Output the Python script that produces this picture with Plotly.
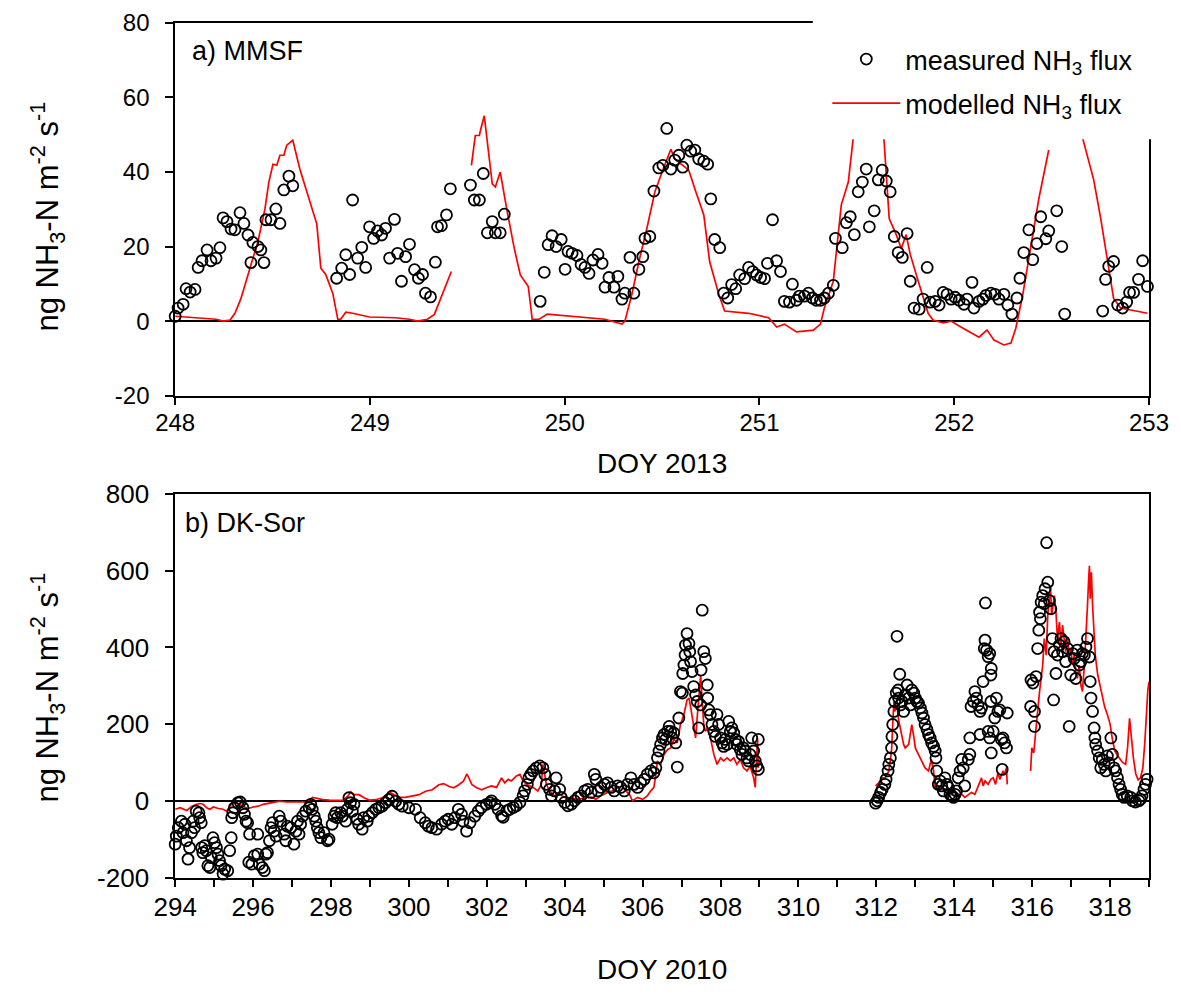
import plotly.graph_objects as go

# ---------------- a) MMSF, DOY 2013 ----------------
top_meas_doy = [
    248.000, 248.015, 248.041, 248.056, 248.077, 248.102, 248.118, 248.138, 248.164, 248.184,
    248.210, 248.230, 248.246, 248.266, 248.287, 248.307, 248.333, 248.353, 248.374, 248.389,
    248.399, 248.425, 248.440, 248.456, 248.466, 248.492, 248.517, 248.538, 248.558, 248.584,
    248.604,
    248.829, 248.855, 248.876, 248.896, 248.911, 248.937, 248.958, 248.978, 248.998, 249.019,
    249.039, 249.060, 249.080, 249.101, 249.126, 249.142, 249.162, 249.183, 249.203, 249.229,
    249.249, 249.270, 249.285, 249.311, 249.336, 249.347, 249.367, 249.393, 249.413, 249.516,
    249.536, 249.562, 249.582, 249.603, 249.628, 249.644, 249.669, 249.690,
    249.874, 249.895, 249.915, 249.935, 249.956, 249.982, 250.002, 250.017, 250.038, 250.063,
    250.084, 250.104, 250.125, 250.145, 250.171, 250.192, 250.207, 250.227, 250.253, 250.273,
    250.294, 250.309, 250.335, 250.355, 250.381, 250.401, 250.412, 250.437, 250.458, 250.483,
    250.504, 250.524, 250.545, 250.565, 250.586, 250.606, 250.627, 250.647, 250.668, 250.688,
    250.714, 250.734, 250.750, 250.770, 250.796, 250.816, 250.837, 250.857, 250.878, 250.898,
    250.924, 250.944, 250.965, 250.985, 251.006, 251.026, 251.041, 251.067, 251.088, 251.108,
    251.128, 251.154, 251.169, 251.190, 251.205, 251.231, 251.251, 251.272, 251.292, 251.313,
    251.333, 251.354, 251.379, 251.390, 251.425, 251.446, 251.466, 251.487, 251.507, 251.528,
    251.548, 251.564, 251.589, 251.610, 251.630, 251.651, 251.671, 251.692, 251.712, 251.733,
    251.758, 251.774, 251.794, 251.820, 251.840, 251.861, 251.876, 251.902, 251.922, 251.943,
    251.963, 251.984, 252.004, 252.025, 252.050, 252.066, 252.091, 252.101, 252.127, 252.147,
    252.163, 252.188, 252.209, 252.229, 252.255, 252.275, 252.296, 252.322, 252.337, 252.357,
    252.383, 252.403, 252.424, 252.444, 252.470, 252.485, 252.526, 252.552, 252.567,
    252.762, 252.777, 252.793, 252.818, 252.839, 252.864, 252.885, 252.900, 252.921, 252.946,
    252.967, 252.992,
]
top_meas_flux = [
    1.3, 3.5, 4.5, 8.7, 7.8, 8.5, 14.4, 16.2, 19.1, 16.2,
    16.9, 19.7, 27.7, 26.7, 24.7, 24.5, 29.1, 26.2, 23.1, 15.7,
    21.1, 20.0, 19.1, 15.7, 27.2, 27.2, 30.1, 26.2, 35.2, 38.9,
    36.3,
    11.5, 14.2, 17.8, 12.5, 32.5, 16.9, 19.8, 14.4, 25.3, 22.2,
    24.2, 23.1, 24.9, 16.9, 27.3, 18.2, 10.7, 17.3, 20.6, 13.8,
    11.5, 12.5, 7.5, 6.5, 15.8, 25.3, 25.6, 28.5, 35.5, 36.5,
    32.5, 32.5, 39.6, 23.7, 26.7, 23.7, 23.7, 28.7,
    5.3, 13.1, 20.5, 22.9, 20.0, 21.9, 13.9, 18.7, 18.2, 17.6,
    15.2, 14.4, 12.8, 16.4, 17.9, 15.5, 9.1, 11.7, 9.1, 12.0,
    5.9, 7.5, 17.1, 7.5, 13.9, 17.3, 22.2, 22.7, 34.9, 41.1,
    41.8, 51.7, 40.8, 43.2, 44.5, 41.3, 47.2, 45.6, 45.9, 43.5,
    42.9, 42.1, 32.8, 21.9, 19.7, 7.5, 6.2, 9.8, 8.7, 12.4,
    11.4, 14.4, 13.3, 12.4, 11.7, 11.4, 15.5, 27.2, 16.2, 13.3,
    5.3, 5.1, 9.9, 5.6, 6.7, 6.7, 7.5, 6.2, 5.6, 5.6,
    6.2, 7.5, 9.6, 22.2, 19.7, 26.4, 28.0, 23.2, 34.7, 37.3,
    40.8, 25.3, 29.6, 37.9, 40.5, 37.6, 34.7, 22.7, 18.4, 17.1,
    23.5, 10.7, 3.5, 3.2, 5.9, 14.4, 5.1, 5.3, 4.3, 7.7,
    7.2, 5.9, 6.4, 5.6, 4.5, 5.9, 10.4, 3.5, 5.3, 5.9,
    6.9, 7.5, 7.2, 5.9, 7.2, 4.3, 1.9, 6.2, 11.5, 18.4,
    24.5, 16.5, 20.8, 28.0, 22.1, 24.2, 29.6, 20.0, 1.9,
    2.7, 11.2, 14.7, 16.0, 4.3, 3.5, 5.1, 7.7, 7.7, 11.2,
    16.2, 9.3,
]

top_mod_doy = [
    248.000, 248.210, 248.246, 248.282, 248.307, 248.338, 248.384, 248.425, 248.461, 248.481,
    248.502, 248.522, 248.538, 248.558, 248.573, 248.604, 248.640, 248.671, 248.701, 248.727,
    248.748, 248.773, 248.809, 248.835, 248.850, 248.876, 248.911, 248.998, 249.132, 249.203,
    249.244, 249.295, 249.331, 249.372, 249.418, 249.470,
    249.521, 249.541, 249.562, 249.567, 249.587, 249.608, 249.628, 249.644, 249.669, 249.705,
    249.741, 249.772, 249.813, 249.833, 249.869, 249.910, 250.053, 250.207, 250.294, 250.309,
    250.345, 250.381, 250.422, 250.463, 250.509, 250.545, 250.565, 250.611, 250.637, 250.668,
    250.714, 250.744, 250.791, 250.821, 250.944, 251.047, 251.088, 251.128, 251.190, 251.277,
    251.313, 251.333, 251.379, 251.420, 251.456, 251.482, 251.513, 251.554, 251.600, 251.635,
    251.666, 251.702, 251.728, 251.753, 251.774, 251.815, 251.866, 251.891, 251.943, 251.984,
    252.025, 252.127, 252.168, 252.204, 252.255, 252.291, 252.316, 252.352, 252.393, 252.434,
    252.485, 252.550,
    252.624, 252.716, 252.752, 252.788, 252.818, 252.854, 252.992,
]
top_mod_flux = [
    1.3, 0.5, 0.0, 0.3, 2.1, 6.1, 14.2, 21.3, 30.1, 37.3,
    42.1, 41.8, 44.5, 44.5, 47.2, 48.5, 40.8, 35.5, 30.1, 26.1,
    14.2, 12.5, 7.5, 0.5, 0.5, 2.4, 2.1, 1.1, 0.9, 0.5,
    0.0, 0.5, 1.8, 7.2, 13.3, None,
    41.8, 49.8, 49.8, 51.1, 55.1, 45.3, 36.8, 36.0, 40.0, 29.3,
    19.5, 12.4, 9.3, 0.5, 0.5, 1.9, 1.3, 0.5, -0.8, 0.0,
    7.2, 16.0, 24.9, 34.7, 41.3, 46.1, 43.5, 41.6, 40.5, 35.5,
    28.5, 16.0, 7.2, 2.7, 2.1, 0.9, -1.6, -0.8, -2.9, -2.4,
    -0.8, 3.5, 10.7, 31.2, 37.3, 49.5, 58.0, 63.0, 61.0, 52.0,
    27.5, 23.2, 19.5, 23.2, 17.9, 10.7, 2.1, 0.3, -0.5, 0.0,
    -1.3, -4.3, -2.4, -5.1, -6.4, -5.9, -1.9, 7.2, 19.5, 32.8,
    45.9, None,
    56.0, 37.9, 27.5, 16.0, 6.1, 3.5, 2.1,
]
top_yticks = [-20, 0, 20, 40, 60, 80]
top_yticklabels = ["-20", "0", "20", "40", "60", "80"]

# ---------------- b) DK-Sor, DOY 2010 ----------------
bot_meas_doy = [
    294.00, 294.03, 294.08, 294.16, 294.20, 294.25, 294.29, 294.33, 294.37, 294.42,
    294.46, 294.50, 294.54, 294.61, 294.63, 294.67, 294.68, 294.71, 294.76, 294.80,
    294.84, 294.89, 294.93, 294.97, 295.01, 295.06, 295.10, 295.14, 295.18, 295.23,
    295.27, 295.35, 295.40, 295.44, 295.45, 295.48, 295.52, 295.61, 295.67, 295.74,
    295.78, 295.82, 295.86, 295.89, 295.91, 295.97, 296.03, 296.12, 296.12, 296.16,
    296.24, 296.29, 296.33, 296.37, 296.42, 296.46, 296.50, 296.54, 296.59, 296.67,
    296.71, 296.80, 296.84, 296.88, 296.97, 297.05, 297.10, 297.14, 297.18, 297.22,
    297.27, 297.35, 297.44, 297.48, 297.52, 297.57, 297.61, 297.65, 297.69, 297.74,
    297.82, 297.91, 297.95, 298.03, 298.08, 298.12, 298.16, 298.25, 298.29, 298.38,
    298.42, 298.46, 298.50, 298.55, 298.59, 298.67, 298.71, 298.80, 298.84, 298.93,
    298.97, 299.06, 299.15, 299.23, 299.31, 299.40, 299.48, 299.57, 299.66, 299.74,
    299.83, 300.00, 300.17, 300.29, 300.42, 300.50, 300.59, 300.71, 300.84, 300.93,
    301.01, 301.10, 301.18, 301.27, 301.35, 301.39, 301.48, 301.57, 301.69, 301.78,
    301.86, 301.99, 302.08,
    302.12, 302.21, 302.29, 302.38, 302.42, 302.51, 302.59, 302.68, 302.76, 302.85,
    302.93, 302.97, 303.04, 303.08, 303.13, 303.19, 303.27, 303.36, 303.44, 303.49,
    303.53, 303.61, 303.66, 303.74, 303.78, 303.87, 303.91, 304.00, 304.08, 304.17,
    304.25, 304.34, 304.42, 304.51, 304.59, 304.68, 304.76, 304.80, 304.85, 304.93,
    305.02, 305.10, 305.19, 305.27, 305.36, 305.44, 305.53, 305.61, 305.70, 305.78,
    305.87, 305.95, 306.04, 306.12, 306.21, 306.29, 306.34, 306.38, 306.42, 306.46,
    306.51, 306.55, 306.59, 306.64, 306.68, 306.72, 306.76, 306.80, 306.85, 306.89,
    306.93, 306.97, 307.02, 307.03, 307.06, 307.09, 307.10, 307.14, 307.19, 307.21,
    307.23, 307.27, 307.31, 307.36, 307.40, 307.44, 307.49, 307.50, 307.53, 307.57,
    307.61, 307.66, 307.67, 307.70, 307.74, 307.78, 307.83, 307.87, 307.91, 307.95,
    308.00, 308.04, 308.08, 308.12, 308.17, 308.21, 308.25, 308.29, 308.34, 308.38,
    308.42, 308.46, 308.51, 308.55, 308.59, 308.63, 308.68, 308.72, 308.76, 308.80,
    308.85, 308.89, 308.93, 308.97, 308.97,
    311.98, 312.02, 312.06, 312.11, 312.15, 312.22, 312.25, 312.30, 312.32, 312.36,
    312.39, 312.40, 312.42, 312.45, 312.47, 312.51, 312.53, 312.56, 312.57, 312.60,
    312.62, 312.66, 312.70, 312.74, 312.79, 312.83, 312.87, 312.91, 312.96, 313.00,
    313.04, 313.08, 313.13, 313.17, 313.21, 313.25, 313.30, 313.34, 313.38, 313.42,
    313.47, 313.51, 313.53, 313.55, 313.59, 313.64, 313.68, 313.72, 313.76, 313.81,
    313.85, 313.89, 313.93, 313.98, 314.02, 314.06, 314.10, 314.15, 314.19, 314.23,
    314.27, 314.36, 314.40, 314.40, 314.43, 314.49, 314.53, 314.57, 314.61, 314.66,
    314.66, 314.70, 314.74, 314.77, 314.79, 314.80, 314.83, 314.87, 314.87, 314.91,
    314.91, 314.94, 314.94, 314.95, 314.95, 315.00, 315.04, 315.08, 315.12, 315.17,
    315.21, 315.23, 315.25, 315.29, 315.34, 315.36,
    315.96, 315.97, 316.02, 316.06, 316.06, 316.10, 316.14, 316.17, 316.19, 316.21,
    316.23, 316.27, 316.31, 316.33, 316.37, 316.40, 316.44, 316.48, 316.52, 316.55,
    316.56, 316.61, 316.65, 316.70, 316.74, 316.78, 316.82, 316.86, 316.91, 316.95,
    316.99, 317.04, 317.08, 317.12, 317.16, 317.21, 317.25, 317.29, 317.34, 317.38,
    317.42, 317.47, 317.49, 317.51, 317.55, 317.59, 317.61, 317.63, 317.68, 317.72,
    317.76, 317.80, 317.85, 317.89, 317.93, 317.97, 318.02, 318.06, 318.10, 318.14,
    318.19, 318.23, 318.27, 318.31, 318.36, 318.44, 318.53, 318.57, 318.65, 318.74,
    318.78, 318.82, 318.87, 318.91, 318.95,
]
bot_meas_flux = [
    -113, -92, -70, -53, -83, -61, -104, -152, -122, -83,
    -53, -70, -27, -31, -44, -57, -122, -135, -117, -130,
    -169, -174, -148, -96, -109, -122, -139, -156, -169, -191,
    -178, -182, -130, -96, -44, -31, -18, -5, -3, -18,
    -35, -53, -57, -160, -87, -165, -143, -139, -87, -165,
    -174, -182, -139, -135, -104, -70, -57, -79, -92, -40,
    -53, -87, -104, -66, -70, -113, -79, -53, -87, -61,
    -40, -27, -18, -9, -22, -40, -53, -70, -83, -96,
    -83, -104, -100, -61, -40, -31, -44, -31, -40, -53,
    -22, 8, -5, -27, -9, -48, -61, -74, -44, -53,
    -40, -31, -22, -18, -14, -5, 3, 12, -1, -9,
    -14, -18, -22, -44, -57, -66, -70, -74, -61, -53,
    -48, -61, -44, -22, -35, -53, -79, -57, -40, -27,
    -18, -9, -5,
    0, -9, -22, -39, -43, -26, -22, -17, -13, -4,
    13, 26, 43, 60, 69, 78, 86, 91, 86, 69,
    43, 30, 13, 26, 60, 30, 9, -4, -13, -9,
    0, 9, 13, 26, 30, 22, 69, 56, 26, 35,
    43, 47, 35, 26, 39, 35, 26, 43, 60, 43,
    35, 47, 56, 69, 78, 73, 86, 112, 130, 147,
    164, 173, 160, 181, 194, 181, 164, 177, 151, 88,
    216, 285, 281, 332, 354, 380, 406, 436, 410, 389,
    363, 337, 298, 276, 259, 190, 250, 341, 497, 389,
    371, 302, 268, 237, 225, 199, 181, 168, 225, 199,
    164, 151, 142, 160, 147, 207, 181, 190, 177, 160,
    147, 155, 134, 121, 138, 130, 112, 104, 121, 164,
    130, 104, 91, 82, 160,
    -6, 0, 9, 22, 30, 43, 56, 78, 95, 112,
    138, 168, 199, 233, 259, 281, 429, 289, 268, 330,
    250, 259, 233, 276, 302, 268, 250, 289, 281, 268,
    259, 255, 242, 229, 216, 199, 186, 173, 164, 151,
    142, 130, 112, 78, 43, 52, 39, 26, 60, 43,
    35, 17, 13, 9, 17, 26, 60, 78, 108, 86,
    39, 108, 164, 121, 246, 259, 285, 268, 250, 233,
    173, 242, 311, 397, 419, 516, 393, 376, 181, 384,
    164, 328, 259, 345, 125, 181, 216, 268, 233, 237,
    160, 82, 164, 151, 138, 229,
    246, 315, 307, 233, 194, 324, 397, 445, 492, 475,
    518, 535, 514, 553, 673, 570, 522, 501, 423, 263,
    389, 332, 380, 406, 423, 389, 415, 363, 397, 194,
    328, 384, 371, 319, 393, 354, 363, 384, 380, 401,
    423, 375, 311, 268, 233, 190, 164, 147, 130, 112,
    86, 108, 95, 78, 117, 99, 164, 121, 86, 78,
    60, 43, 30, 17, 9, 13, 9, 0, -3, 0,
    4, 13, 30, 43, 56,
]

bot_mod_doy = [
    294.00, 294.13, 294.30, 294.43, 294.55, 294.64, 294.72, 294.81, 294.89, 294.98,
    295.11, 295.23, 295.32, 295.40, 295.49, 295.62, 295.74, 295.87, 296.00, 296.13,
    296.26, 296.38, 296.51, 296.68, 296.85, 297.02, 297.19, 297.36, 297.53, 297.66,
    297.79, 297.96, 298.13, 298.30, 298.43, 298.51, 298.60, 298.72, 298.85, 298.98,
    299.15, 299.32, 299.45, 299.53, 299.62, 299.74, 299.91, 300.09, 300.26, 300.43,
    300.60, 300.77, 300.89, 301.02, 301.15, 301.28, 301.40, 301.49, 301.53, 301.62,
    301.74, 301.87, 302.00, 302.12, 302.25, 302.38, 302.46, 302.55, 302.63, 302.76,
    302.85, 302.93, 303.02, 303.10, 303.19, 303.31, 303.40, 303.44, 303.49, 303.53,
    303.61, 303.74, 303.87, 304.00, 304.17, 304.34, 304.51, 304.68, 304.80, 304.93,
    305.10, 305.23, 305.36, 305.48, 305.57, 305.66, 305.74, 305.87, 306.00, 306.12,
    306.21, 306.29, 306.34, 306.38, 306.46, 306.55, 306.64, 306.72, 306.80, 306.89,
    306.97, 307.06, 307.14, 307.19, 307.23, 307.31, 307.36, 307.40, 307.44, 307.49,
    307.53, 307.57, 307.61, 307.66, 307.74, 307.83, 307.91, 308.00, 308.08, 308.17,
    308.25, 308.34, 308.42, 308.51, 308.59, 308.68, 308.76, 308.85, 308.89, 308.93,
    308.95, 308.97, 309.00,
    311.98, 312.06, 312.15, 312.23, 312.32, 312.39, 312.42, 312.45, 312.47, 312.51,
    312.53, 312.57, 312.62, 312.66, 312.70, 312.74, 312.79, 312.83, 312.87, 312.91,
    312.96, 313.00, 313.08, 313.17, 313.25, 313.34, 313.41, 313.47, 313.51, 313.59,
    313.68, 313.76, 313.85, 313.93, 314.02, 314.10, 314.19, 314.27, 314.36, 314.44,
    314.53, 314.61, 314.70, 314.74, 314.79, 314.87, 314.94, 315.00, 315.06, 315.12,
    315.17, 315.25, 315.29, 315.34, 315.36, 315.60,
    315.96, 315.99, 316.04, 316.10, 316.14, 316.19, 316.23, 316.27, 316.31, 316.36,
    316.40, 316.44, 316.47, 316.50, 316.53, 316.57, 316.61, 316.65, 316.70, 316.74,
    316.78, 316.82, 316.86, 316.91, 316.95, 316.99, 317.04, 317.08, 317.12, 317.16,
    317.21, 317.25, 317.29, 317.34, 317.38, 317.42, 317.45, 317.47, 317.49, 317.52,
    317.55, 317.58, 317.62, 317.68, 317.74, 317.80, 317.86, 317.93, 318.00, 318.06,
    318.12, 318.19, 318.25, 318.32, 318.40, 318.45, 318.50, 318.54, 318.60, 318.66,
    318.72, 318.78, 318.84, 318.89, 318.93, 318.97, 319.00,
]
bot_mod_flux = [
    -22, -18, -25, -14, -9, -7, -9, -18, -22, -16,
    -20, -22, -27, -14, -5, -7, -14, -20, -16, -14,
    -9, -7, -5, -1, -3, -3, -3, -3, 9, 6,
    3, 2, 1, 1, 12, 23, 16, 16, 8, 2,
    3, 8, 16, 21, 16, 9, 9, 12, 16, 25,
    29, 42, 45, 38, 34, 42, 51, 70, 60, 42,
    34, 29, 35, 39, 35, 60, 47, 56, 52, 65,
    69, 52, 43, 39, 35, 26, 43, 95, 69, 43,
    26, 13, 17, 9, 7, 4, 7, 10, 4, 13,
    22, 26, 35, 39, 26, 17, 0, 9, 4, 13,
    26, 35, 69, 104, 95, 121, 134, 138, 160, 151,
    199, 225, 263, 268, 246, 190, 164, 216, 259, 328,
    259, 199, 181, 190, 164, 121, 95, 112, 104, 112,
    104, 112, 95, 108, 86, 78, 91, 60, 35, 104,
    164, 86, None,
    39, 47, 60, 60, 78, 130, 199, 259, 233, 246,
    250, 212, 190, 164, 147, 138, 142, 147, 173, 199,
    168, 138, 121, 104, 86, 78, 108, 78, 35, 30,
    39, 26, 30, 17, 26, 13, 17, 9, 17, 22,
    17, 35, 60, 39, 52, 43, 56, 60, 43, 73,
    56, 78, 69, 86, 43, None,
    78, 138, 125, 199, 233, 285, 319, 354, 423, 380,
    484, 527, 561, 484, 510, 535, 492, 423, 466, 406,
    458, 423, 389, 423, 380, 397, 354, 380, 337, 319,
    354, 302, 285, 354, 423, 510, 579, 613, 527, 596,
    510, 440, 380, 330, 300, 270, 245, 225, 200, 160,
    130, 118, 110, 100, 95, 140, 215, 165, 110, 70,
    55, 60, 85, 150, 230, 290, 310,
]
bot_yticks = [-200, 0, 200, 400, 600, 800]
bot_yticklabels = ["-200", "0", "200", "400", "600", "800"]

# ---------------- figure ----------------
W, H = 1181, 994


def fx(p):
    """canvas pixel (from left) -> paper fraction"""
    return p / W


def fy(p):
    """canvas pixel (from top) -> paper fraction"""
    return (H - p) / H


marker_style = dict(symbol="circle-open", size=11, color="black", line=dict(width=1.8))
line_style = dict(color="#ff0000", width=1.7)
meas_name = "measured NH<sub>3</sub> flux"
mod_name = "modelled NH<sub>3</sub> flux"

fig = go.Figure()
fig.add_trace(go.Scatter(x=top_mod_doy, y=top_mod_flux, mode="lines", line=line_style,
                         name=mod_name, legendgroup="mod", legendrank=2,
                         connectgaps=False, xaxis="x", yaxis="y"))
fig.add_trace(go.Scatter(x=top_meas_doy, y=top_meas_flux, mode="markers", marker=marker_style,
                         name=meas_name, legendgroup="meas", legendrank=1,
                         cliponaxis=False, xaxis="x", yaxis="y"))
fig.add_trace(go.Scatter(x=bot_mod_doy, y=bot_mod_flux, mode="lines", line=line_style,
                         showlegend=False, connectgaps=False, xaxis="x2", yaxis="y2"))
fig.add_trace(go.Scatter(x=bot_meas_doy, y=bot_meas_flux, mode="markers", marker=marker_style,
                         showlegend=False, cliponaxis=False, xaxis="x2", yaxis="y2"))

axis_common = dict(showline=True, linecolor="black", linewidth=1.6, mirror=True,
                   ticks="outside", ticklen=8, tickwidth=1.6, tickcolor="black",
                   showgrid=False, ticklabeloverflow="allow")
top_tickfont = dict(size=24, color="black")
bot_tickfont = dict(size=26, color="black")

x_dom = [fx(158.8), fx(1168.6)]

fig.update_layout(
    width=W, height=H,
    margin=dict(l=0, r=0, t=0, b=0),
    paper_bgcolor="white", plot_bgcolor="white",
    font=dict(family="Liberation Sans, Arial, sans-serif", color="black"),
    xaxis=dict(domain=x_dom, anchor="y", range=[248, 253], tick0=248, dtick=1,
               zeroline=False, ticklabelstandoff=-3, tickfont=top_tickfont, **axis_common),
    yaxis=dict(domain=[fy(392.5), fy(8.2)], anchor="x", range=[-20, 80],
               tickmode="array", tickvals=top_yticks, ticktext=top_yticklabels,
               zeroline=True, zerolinecolor="black", zerolinewidth=1.6,
               ticklabelstandoff=11, tickfont=top_tickfont, **axis_common),
    xaxis2=dict(domain=x_dom, anchor="y2", range=[294, 319], tick0=294, dtick=2,
                minor=dict(dtick=1, tick0=294, ticks="outside", ticklen=8, tickwidth=1.6,
                           tickcolor="black"),
                zeroline=False, ticklabelstandoff=-3, tickfont=bot_tickfont, **axis_common),
    yaxis2=dict(domain=[fy(889.4), fy(493.9)], anchor="x2", range=[-200, 800],
                tickmode="array", tickvals=bot_yticks, ticktext=bot_yticklabels,
                zeroline=True, zerolinecolor="black", zerolinewidth=1.6,
                ticklabelstandoff=11, tickfont=bot_tickfont, **axis_common),
    showlegend=True,
    legend=dict(x=fx(835), y=fy(20.6), xanchor="left", yanchor="top",
                bgcolor="rgba(0,0,0,0)", borderwidth=0, font=dict(size=27),
                traceorder="grouped", tracegroupgap=6, itemwidth=68),
    shapes=[
        # white backing of the legend panel, hiding the frame corner behind it
        dict(type="rect", xref="paper", yref="paper",
             x0=fx(820), x1=1.0, y0=fy(128), y1=1.0,
             fillcolor="white", line=dict(width=0), layer="above"),
    ],
    annotations=[
        dict(text="a) MMSF", x=fx(174.3), y=fy(36.9), xref="paper", yref="paper",
             xanchor="left", yanchor="middle", showarrow=False, font=dict(size=27)),
        dict(text="b) DK-Sor", x=fx(167.1), y=fy(523.6), xref="paper", yref="paper",
             xanchor="left", yanchor="middle", showarrow=False, font=dict(size=27)),
        dict(text="DOY 2013", x=fx(663.2), y=fy(462.1), xref="paper", yref="paper",
             xanchor="center", yanchor="middle", showarrow=False, font=dict(size=28)),
        dict(text="DOY 2010", x=fx(663.2), y=fy(984), xref="paper", yref="paper",
             xanchor="center", yanchor="middle", showarrow=False, font=dict(size=28)),
        dict(text="ng NH<sub>3</sub>-N m<sup>-2</sup> s<sup>-1</sup>", x=fx(26.8), y=fy(208),
             xref="paper", yref="paper", xanchor="center", yanchor="middle", textangle=-90,
             showarrow=False, font=dict(size=31)),
        dict(text="ng NH<sub>3</sub>-N m<sup>-2</sup> s<sup>-1</sup>", x=fx(26.8), y=fy(693.7),
             xref="paper", yref="paper", xanchor="center", yanchor="middle", textangle=-90,
             showarrow=False, font=dict(size=31)),
    ],
)

fig.write_html("out.html")
